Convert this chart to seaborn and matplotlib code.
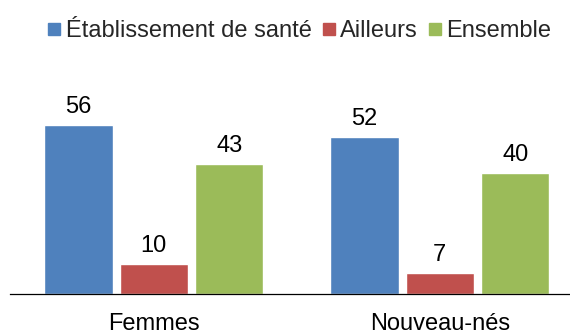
import matplotlib
matplotlib.use("Agg")
import matplotlib.pyplot as plt
from matplotlib.lines import Line2D
import seaborn as sns
import pandas as pd

categories = ["Femmes", "Nouveau-nés"]
series = ["Établissement de santé", "Ailleurs", "Ensemble"]
etablissement = [56, 52]
ailleurs = [10, 7]
ensemble = [43, 40]
colors = ["#4F81BD", "#C0504D", "#9BBB59"]

df = pd.DataFrame({
    "groupe": categories * 3,
    "lieu": [s for s in series for _ in categories],
    "valeur": etablissement + ailleurs + ensemble,
})

sns.set_style("white")
plt.rcParams["font.family"] = ["Liberation Sans", "DejaVu Sans"]

fig = plt.figure(figsize=(5.7, 3.34), dpi=100)
ax = fig.add_axes([10 / 570, 40 / 334, 560 / 570, 234 / 334])

sns.barplot(data=df, x="groupe", y="valeur", hue="lieu", order=categories,
            hue_order=series, palette=colors, saturation=1, width=0.79,
            gap=0.09, ax=ax, legend=False)

for cont in ax.containers:
    ax.bar_label(cont, fontsize=17, padding=5, color="#000000")

ax.set_xlim(-0.503, 1.455)
ax.set_ylim(0, 234 / 3.02)
ax.set_xlabel("")
ax.set_ylabel("")
ax.set_yticks([])
for side in ["top", "left", "right"]:
    ax.spines[side].set_visible(False)
ax.spines["bottom"].set_color("#000000")
ax.spines["bottom"].set_linewidth(0.9)
ax.tick_params(axis="x", length=0, pad=14, labelsize=17, labelcolor="#000000")

handles = [Line2D([0], [0], marker="s", linestyle="none", markersize=8,
                  markerfacecolor=c, markeredgecolor=c) for c in colors]
fig.legend(handles, series, loc="center", bbox_to_anchor=(300 / 570, 1 - 31 / 334),
           ncol=3, frameon=False, fontsize=17, handlelength=0.5,
           handletextpad=0.25, columnspacing=0.45, borderaxespad=0)

fig.savefig("out.png", dpi=100)
